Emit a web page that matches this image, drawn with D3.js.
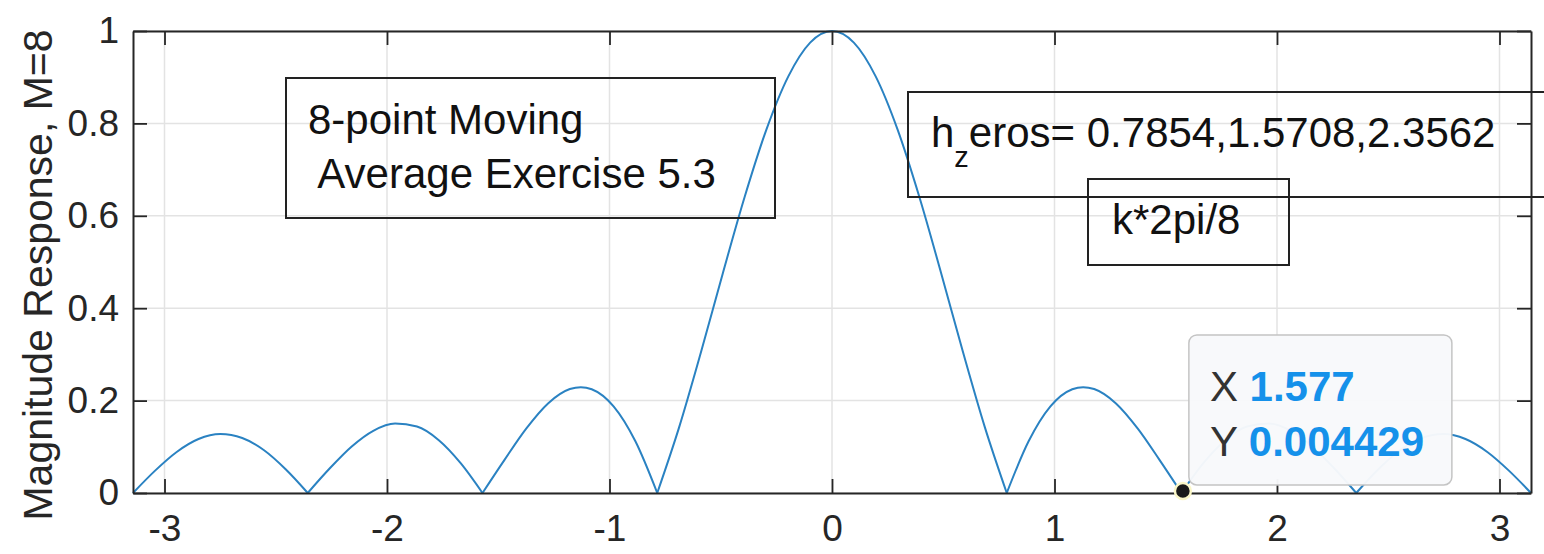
<!DOCTYPE html>
<html>
<head>
<meta charset="utf-8">
<script src="https://cdn.jsdelivr.net/npm/d3@7"></script>
<style>
  body { margin: 0; background: #fff; }
  svg { display: block; font-family: "Liberation Sans", Arial, Helvetica, sans-serif; }
</style>
</head>
<body>
<div id="chart"></div>
<script>
// frequency (rad/sample) and magnitude of the 8-point moving average
var freq = [-3.1416, -3.0434, -2.9452, -2.8471, -2.7489, -2.6507, -2.5525, -2.4544, -2.3562,
  -2.2580, -2.1598, -2.0617, -1.9635, -1.8653, -1.7671, -1.6690, -1.5708,
  -1.4726, -1.3744, -1.2763, -1.1781, -1.1290, -1.0799, -0.9817, -0.8836, -0.7854,
  -0.6872, -0.5890, -0.4909, -0.3927, -0.2945, -0.1963, -0.0982, 0,
  0.0982, 0.1963, 0.2945, 0.3927, 0.4909, 0.5890, 0.6872,
  0.7854, 0.8836, 0.9817, 1.0799, 1.1290, 1.1781, 1.2763, 1.3744, 1.4726,
  1.5708, 1.6690, 1.7671, 1.8653, 1.9635, 2.0617, 2.1598, 2.2580,
  2.3562, 2.4544, 2.5525, 2.6507, 2.7489, 2.8471, 2.9452, 3.0434, 3.1416];
var mag = [0, 0.0479, 0.0888, 0.1168, 0.1275, 0.1191, 0.0924, 0.0508, 0,
  0.0529, 0.1002, 0.1346, 0.1503, 0.1438, 0.1143, 0.0646, 0,
  0.0712, 0.1393, 0.1939, 0.2250, 0.2291, 0.2246, 0.1875, 0.1119, 0,
  0.1420, 0.3045, 0.4753, 0.6407, 0.7871, 0.9018, 0.9749, 1,
  0.9749, 0.9018, 0.7871, 0.6407, 0.4753, 0.3045, 0.1420,
  0, 0.1119, 0.1875, 0.2246, 0.2291, 0.2250, 0.1939, 0.1393, 0.0712,
  0, 0.0646, 0.1143, 0.1438, 0.1503, 0.1346, 0.1002, 0.0529,
  0, 0.0508, 0.0924, 0.1191, 0.1275, 0.1168, 0.0888, 0.0479, 0];

var xTicks = [-3, -2, -1, 0, 1, 2, 3];
var yTicks = [0, 0.2, 0.4, 0.6, 0.8, 1];
var yLabel = "Magnitude Response, M=8";

// datatip
var tipX = 1.577;
var tipY = 0.004429;

var noteLines = ["8-point Moving", " Average Exercise 5.3"];
var zerosNote = { base: "h", sub: "z", rest: "eros= 0.7854,1.5708,2.3562" };
var kNote = "k*2pi/8";

var W = 1544, H = 554;
var margin = { top: 31, right: 13, bottom: 61, left: 133 };

var svg = d3.select("#chart").append("svg")
  .attr("width", W)
  .attr("height", H)
  .style("overflow", "hidden");

var x = d3.scaleLinear().domain(d3.extent(freq)).range([margin.left, W - margin.right]);
var y = d3.scaleLinear().domain([0, 1]).range([H - margin.bottom, margin.top]);

var axisColor = "#262626";
var tickLen = 14;

// grid
svg.append("g").selectAll("line.gx").data(xTicks).enter().append("line")
  .attr("x1", function(d) { return x(d); }).attr("x2", function(d) { return x(d); })
  .attr("y1", y(0)).attr("y2", y(1))
  .attr("stroke", "#e3e3e3").attr("stroke-width", 1.5);
svg.append("g").selectAll("line.gy").data(yTicks).enter().append("line")
  .attr("x1", x.range()[0]).attr("x2", x.range()[1])
  .attr("y1", function(d) { return y(d); }).attr("y2", function(d) { return y(d); })
  .attr("stroke", "#e3e3e3").attr("stroke-width", 1.5);

// split the curve at its nulls so the V shapes stay sharp
var pts = freq.map(function(f, i) { return [f, mag[i]]; });
var segs = [], cur = [];
pts.forEach(function(p, i) {
  cur.push(p);
  if (p[1] === 0 && cur.length > 1) { segs.push(cur); cur = [p]; }
});
if (cur.length > 1) segs.push(cur);

var line = d3.line()
  .x(function(d) { return x(d[0]); })
  .y(function(d) { return y(d[1]); })
  .curve(d3.curveMonotoneX);

svg.append("g").selectAll("path").data(segs).enter().append("path")
  .attr("d", line)
  .attr("fill", "none")
  .attr("stroke", "#2a82c2")
  .attr("stroke-width", 2);

// axes, MATLAB style: box on, ticks pointing in
function styleAxis(g) {
  g.selectAll(".domain").attr("stroke", axisColor).attr("stroke-width", 2);
  g.selectAll(".tick line").attr("stroke", axisColor).attr("stroke-width", 1.8);
  g.selectAll("text").attr("fill", axisColor).style("font-size", "37px");
}

svg.append("g")
  .attr("transform", "translate(0," + y(0) + ")")
  .call(d3.axisBottom(x).tickValues(xTicks).tickFormat(d3.format("d"))
    .tickSizeInner(-tickLen).tickSizeOuter(0).tickPadding(22))
  .call(styleAxis)
  .selectAll("text").text(function(d) { return d < 0 ? "-" + Math.abs(d) : d; });

svg.append("g")
  .attr("transform", "translate(0," + y(1) + ")")
  .call(d3.axisTop(x).tickValues(xTicks).tickFormat("")
    .tickSizeInner(-tickLen).tickSizeOuter(0))
  .call(styleAxis);

svg.append("g")
  .attr("transform", "translate(" + x.range()[0] + ",0)")
  .call(d3.axisLeft(y).tickValues(yTicks).tickFormat(function(d) { return d3.format("")(+d.toFixed(1)); })
    .tickSizeInner(-tickLen).tickSizeOuter(0).tickPadding(14))
  .call(styleAxis);

svg.append("g")
  .attr("transform", "translate(" + x.range()[1] + ",0)")
  .call(d3.axisRight(y).tickValues(yTicks).tickFormat("")
    .tickSizeInner(-tickLen).tickSizeOuter(0))
  .call(styleAxis);

// y label
svg.append("text")
  .attr("transform", "translate(52," + 275 + ") rotate(-90)")
  .attr("text-anchor", "middle")
  .attr("fill", axisColor)
  .style("font-size", "41px")
  .text(yLabel);

// annotation boxes
var boxStroke = "#222";
var box1 = svg.append("g");
box1.append("rect").attr("x", 286).attr("y", 78).attr("width", 489).attr("height", 140)
  .attr("fill", "none").attr("stroke", boxStroke).attr("stroke-width", 2);
box1.append("text")
  .attr("fill", "#111").style("font-size", "42px").attr("xml:space", "preserve")
  .selectAll("tspan").data(noteLines).enter().append("tspan")
  .attr("x", 308)
  .attr("y", function(d, i) { return 134 + i * 54; })
  .text(function(d) { return d; });

var box2 = svg.append("g");
box2.append("rect").attr("x", 908).attr("y", 92).attr("width", 700).attr("height", 105)
  .attr("fill", "none").attr("stroke", boxStroke).attr("stroke-width", 2);
var zt = box2.append("text").attr("x", 931).attr("y", 147)
  .attr("fill", "#111").style("font-size", "42px");
zt.append("tspan").text(zerosNote.base);
zt.append("tspan").attr("dy", 20).style("font-size", "29px").text(zerosNote.sub);
zt.append("tspan").attr("dy", -20).text(zerosNote.rest);

var box3 = svg.append("g");
box3.append("rect").attr("x", 1088).attr("y", 179).attr("width", 201).attr("height", 86)
  .attr("fill", "none").attr("stroke", boxStroke).attr("stroke-width", 2);
box3.append("text").attr("x", 1112).attr("y", 234)
  .attr("fill", "#111").style("font-size", "42px").text(kNote);

// datatip
var mx = x(tipX), my = y(tipY);
var tip = svg.append("g");
tip.append("rect")
  .attr("x", mx + 6).attr("y", my - 156)
  .attr("width", 263).attr("height", 150)
  .attr("rx", 8).attr("ry", 8)
  .attr("fill", "#f8f9fb").attr("fill-opacity", 0.97)
  .attr("stroke", "#c4c4c4").attr("stroke-width", 1.5);
var rows = [["X", d3.format(".3f")(tipX)], ["Y", String(tipY)]];
var rt = tip.selectAll("text.row").data(rows).enter().append("text")
  .attr("x", mx + 27)
  .attr("y", function(d, i) { return my - 90 + i * 55; })
  .style("font-size", "42px");
rt.append("tspan").attr("fill", "#333").text(function(d) { return d[0] + " "; });
rt.append("tspan").attr("fill", "#1591ea").attr("font-weight", "bold").text(function(d) { return d[1]; });

tip.append("circle")
  .attr("cx", mx).attr("cy", my).attr("r", 8)
  .attr("fill", "#1a1a1a")
  .attr("stroke", "#fbf7c8").attr("stroke-width", 2.5);
</script>
</body>
</html>
